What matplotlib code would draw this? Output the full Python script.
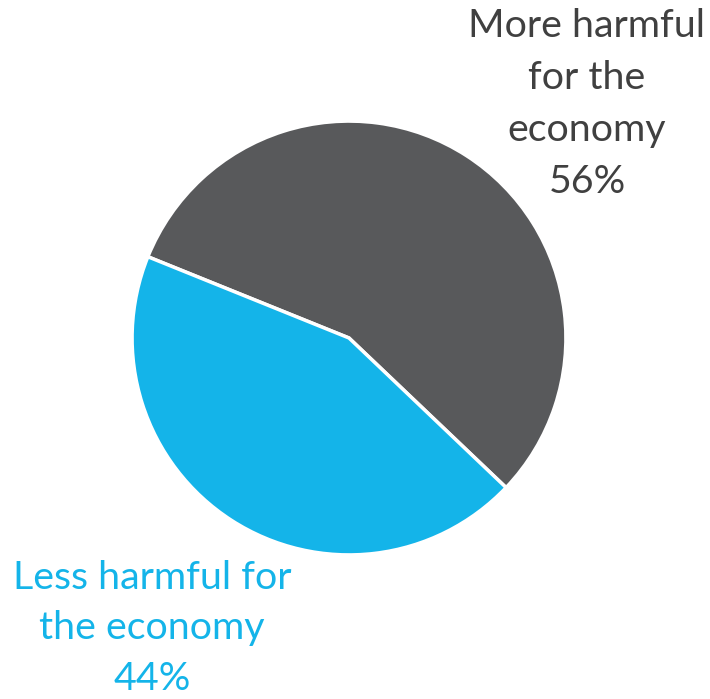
import matplotlib
matplotlib.use('Agg')
import matplotlib.pyplot as plt

# Anteile
labels = ['More harmful\nfor the\neconomy', 'Less harmful for\nthe economy']
values = [56, 44]
colors = ['#58595B', '#14B4E9']
text_colors = ['#404040', '#14B4E9']

W, H = 710, 699
fig = plt.figure(figsize=(W / 100, H / 100), dpi=100)

# Kreis: Mitte (349, 338) px, Radius 218 px
cx, cy, r = 349, 338, 218
ax = fig.add_axes([(cx - r) / W, (H - cy - r) / H, 2 * r / W, 2 * r / H])
ax.pie(values, colors=colors, startangle=158, counterclock=False,
       wedgeprops=dict(edgecolor='white', linewidth=2.5))
ax.set_xlim(-1.005, 1.005)
ax.set_ylim(-1.005, 1.005)
ax.set_aspect('equal')
ax.axis('off')

# Beschriftungen
fig.text(587 / W, 1 - 8 / H, '{}\n{}%'.format(labels[0], values[0]),
         ha='center', va='top', fontsize=28.4, family='Lato',
         color=text_colors[0], linespacing=1.55)
fig.text(152 / W, 1 - 560 / H, '{}\n{}%'.format(labels[1], values[1]),
         ha='center', va='top', fontsize=28.4, family='Lato',
         color=text_colors[1], linespacing=1.5)

fig.savefig('out.png', dpi=100)
